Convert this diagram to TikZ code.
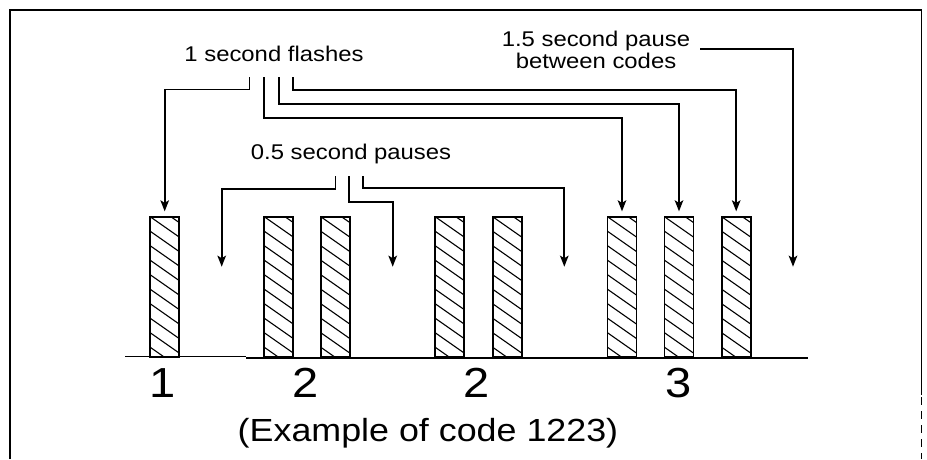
\documentclass[tikz,border=0pt]{standalone}
\usepackage{fontspec}
\setmainfont{Liberation Sans}[FakeStretch=1.12]
\usetikzlibrary{arrows.meta,calc}

\tikzset{
  conn/.style={line width=1.9pt, -{Stealth[length=11pt,width=8.5pt,inset=2.5pt]}},
  flashbar/.style={draw, line width=1.8pt, minimum width=29pt, minimum height=140.3pt,
    inner sep=0pt, path picture={
      \foreach \k in {-2,...,10}{
        \draw[line width=1.1pt]
          ($(path picture bounding box.north west)+(0,\k*14.5)$) -- ++(40,28);
      }}},
  lbl/.style={font=\fontsize{21.3}{21.6}\selectfont, anchor=base, inner sep=0pt},
  digit/.style={font=\fontsize{42}{44}\selectfont, anchor=base, inner sep=0pt},
  caption/.style={font=\fontsize{32}{34}\selectfont, anchor=base, inner sep=0pt},
}

\begin{document}
\begin{tikzpicture}[x=1pt,y=-1pt]
  \useasboundingbox (0,0) rectangle (927,459);
  \fill[white] (0,0) rectangle (927,459);

  % frame
  \draw[line width=1.3pt] (10,459) -- (10,10) -- (921.7,10) -- (921.7,395);
  \draw[line width=1pt, dash pattern=on 8pt off 6pt] (921.7,397) -- (921.7,459);

  % time axis
  \draw[line width=1.4pt] (125,356.3) -- (246,356.3);
  \draw[line width=2pt] (246,357.6) -- (807.5,357.6);

  % flashes
  \node[flashbar] (b1) at (164.7,286.9) {};
  \node[flashbar] (b2) at (278.8,286.9) {};
  \node[flashbar] (b3) at (335.3,286.9) {};
  \node[flashbar] (b4) at (449.7,286.9) {};
  \node[flashbar] (b5) at (507.2,286.9) {};
  \node[flashbar] (b6) at (622.0,286.9) {};
  \node[flashbar] (b7) at (679.0,286.9) {};
  \node[flashbar] (b8) at (736.2,286.9) {};

  % pause positions
  \coordinate (p1) at (221.7,266.7);
  \coordinate (p2) at (392.7,266.7);
  \coordinate (p3) at (564.3,266.7);
  \coordinate (p4) at (793.0,266.7);

  % labels (a two-line node sits on the baseline of its last line)
  \node[lbl] (flashes) at (274,61.7) {1 second flashes};
  \node[lbl, align=center] (longpause) at (596,68.3) {1.5 second pause\\between codes};
  \node[lbl] (pauses) at (351,159.3) {0.5 second pauses};

  % leader start points
  \coordinate (fA) at (249.5,77);
  \coordinate (fB) at (264.3,77);
  \coordinate (fC) at (279.0,77);
  \coordinate (fD) at (293.0,77);
  \coordinate (lp) at (700,49.3);
  \coordinate (pE) at (335.5,176);
  \coordinate (pF) at (349.3,176);
  \coordinate (pG) at (363.3,176);

  % leaders to the flashes
  \draw[conn, shorten >=4.5pt] (fA) -- ++(0,12.5) -| (b1.north);
  \draw[conn, shorten >=4.5pt] (fB) -- ++(0,41.3) -| (b6.north);
  \draw[conn, shorten >=4.5pt] (fC) -- ++(0,27) -| (b7.north);
  \draw[conn, shorten >=4.5pt] (fD) -- ++(0,13) -| (b8.north);

  % leaders to the pauses
  \draw[conn] (lp) -| (p4);
  \draw[conn] (pE) -- ++(0,12.7) -| (p1);
  \draw[conn] (pF) -- ++(0,26.3) -| (p2);
  \draw[conn] (pG) -- ++(0,12.3) -| (p3);

  % digit groups
  \node[digit] (d1) at (163,397) {1};
  \node[digit] (d2) at (306,397) {2};
  \node[digit] (d3) at (477,397) {2};
  \node[digit] (d4) at (679,397) {3};

  \node[caption] (cap) at (428,441.7) {(Example of code 1223)};
\end{tikzpicture}
\end{document}
